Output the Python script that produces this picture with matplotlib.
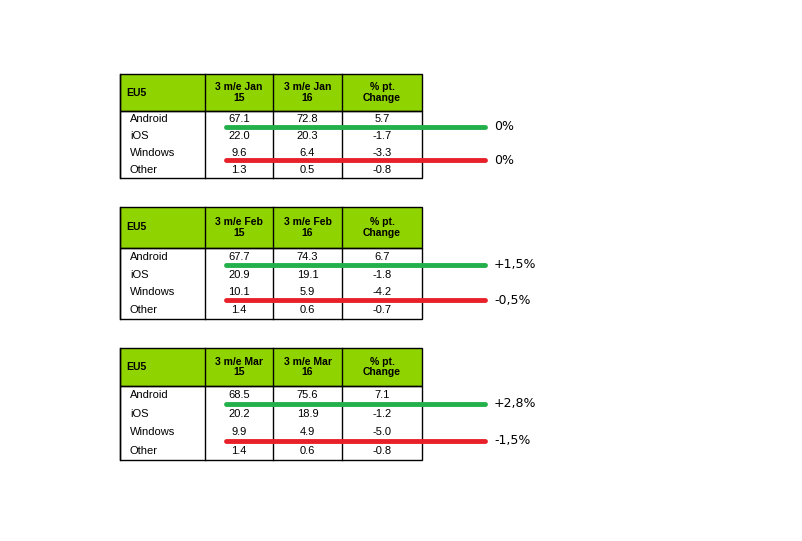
import matplotlib.pyplot as plt

months = ['Jan', 'Feb', 'Mar']
platforms = ['Android', 'iOS', 'Windows', 'Other']
share_15 = [[67.1, 22.0, 9.6, 1.3], [67.7, 20.9, 10.1, 1.4], [68.5, 20.2, 9.9, 1.4]]
share_16 = [[72.8, 20.3, 6.4, 0.5], [74.3, 19.1, 5.9, 0.6], [75.6, 18.9, 4.9, 0.6]]
change = [[5.7, -1.7, -3.3, -0.8], [6.7, -1.8, -4.2, -0.7], [7.1, -1.2, -5.0, -0.8]]
android_note = ['0%', '+1,5%', '+2,8%']
windows_note = ['0%', '-0,5%', '-1,5%']

fig = plt.figure(figsize=(8.02, 5.41), dpi=100)
ax = fig.add_axes([0, 0, 1, 1])
ax.set_xlim(0, 802)
ax.set_ylim(541, 0)
ax.axis('off')

cols = [120, 205, 273, 342, 422]
tops = [74, 207, 348]
head_h = [37, 41, 38]
body_h = [67, 71, 74]
green_fill = '#8fd400'

for t, m in enumerate(months):
    y0 = tops[t]
    hb = y0 + head_h[t]
    bh = body_h[t]
    # header
    ax.add_patch(plt.Rectangle((cols[0], y0), cols[-1] - cols[0], head_h[t],
                               facecolor=green_fill, edgecolor='black', lw=1))
    heads = ['EU5', f'3 m/e {m}\n15', f'3 m/e {m}\n16', '% pt.\nChange']
    for i, h in enumerate(heads):
        ax.plot([cols[i], cols[i]], [y0, hb + bh], color='black', lw=1)
        if i == 0:
            ax.text(cols[0] + 6, (y0 + hb) / 2, h, ha='left', va='center',
                    fontsize=7.5, fontweight='bold', family='Liberation Sans')
        else:
            ax.text((cols[i] + cols[i + 1]) / 2, (y0 + hb) / 2, h, ha='center',
                    va='center', fontsize=7.5, fontweight='bold',
                    family='Liberation Sans', linespacing=1.1)
    ax.add_patch(plt.Rectangle((cols[0], hb), cols[-1] - cols[0], bh,
                               facecolor='none', edgecolor='black', lw=1))
    rh = bh / 4
    for r, p in enumerate(platforms):
        yc = hb + rh * (r + 0.5)
        ax.text(cols[0] + 10, yc, p, ha='left', va='center', fontsize=8,
                family='Liberation Sans')
        vals = [share_15[t][r], share_16[t][r], change[t][r]]
        for i, v in enumerate(vals):
            ax.text((cols[i + 1] + cols[i + 2]) / 2, yc, f'{v:.1f}', ha='center',
                    va='center', fontsize=8, family='Liberation Sans')
    yg = hb + rh * 0.95
    yr = hb + rh * 2.95
    ax.plot([226, 485], [yg, yg], color='#22b04b', lw=3.5, solid_capstyle='round')
    ax.plot([226, 485], [yr, yr], color='#e8202a', lw=3.5, solid_capstyle='round')
    ax.text(494, yg, android_note[t], ha='left', va='center', fontsize=9,
            family='DejaVu Sans')
    ax.text(494, yr, windows_note[t], ha='left', va='center', fontsize=9,
            family='DejaVu Sans')

fig.savefig('out.png', dpi=100, facecolor='white')
